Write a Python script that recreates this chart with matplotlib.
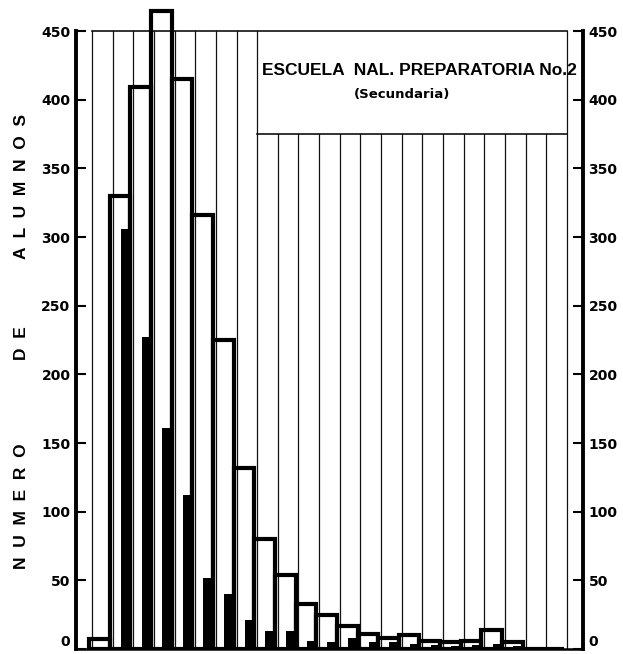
import numpy as np
import matplotlib
matplotlib.use("Agg")
import matplotlib.pyplot as plt

# Numero de alumnos por columna (barra blanca = total, barra negra = subgrupo)
total = [7, 330, 409, 465, 415, 316, 225, 132, 80, 54, 33, 25, 17, 11, 8, 10, 6, 5, 6, 14, 5, 0, 0]
subgrupo = [0, 306, 227, 161, 112, 52, 40, 21, 13, 13, 6, 5, 8, 5, 5, 4, 3, 2, 3, 4, 2, 0, 0]
y_ticks = list(range(0, 451, 50))
title = "ESCUELA  NAL. PREPARATORIA No.2"
subtitle = "(Secundaria)"
ylabel_words = ["N  U  M  E  R  O", "D  E", "A  L  U  M  N  O  S"]

n_cols = len(total)
y_top = 450
box_bottom = 375
box_first = 8

fig = plt.figure(figsize=(6.23, 6.54), dpi=100)
ax = fig.add_axes([76 / 623, 5 / 654, 507 / 623, 645.3 / 654])
ax.set_xlim(-0.775, 23.78)
ax.set_ylim(0, 470)

# grid columns
for i in range(n_cols + 1):
    top = box_bottom if box_first < i < n_cols else y_top
    ax.plot([i, i], [0, top], color="#111111", lw=0.9, zorder=1)
ax.plot([0, n_cols], [y_top, y_top], color="#111111", lw=1.2, zorder=1)
ax.plot([box_first, n_cols], [box_bottom, box_bottom], color="#111111", lw=1.2, zorder=1)

x = np.arange(n_cols)
ax.bar(x - 0.14, total, width=1.0, align="edge", facecolor="none",
       edgecolor="black", lw=3.0, zorder=3)
ax.bar(x + 0.4, subgrupo, width=0.52, align="edge", color="black",
       lw=0, zorder=4)

ax.text(15.85, 421, title, ha="center", va="center", fontsize=12.5,
        fontweight="bold", family="Liberation Sans", zorder=5)
ax.text(15.0, 404, subtitle, ha="center", va="center", fontsize=9.5,
        fontweight="bold", family="DejaVu Sans", zorder=5)

ax.spines["top"].set_visible(False)
for s in ["left", "right"]:
    ax.spines[s].set_linewidth(2.8)
    ax.spines[s].set_bounds(0, y_top)
ax.spines["bottom"].set_linewidth(1.8)

ax.set_xticks([])
ax.set_yticks(y_ticks)
ax.set_yticklabels([str(v) for v in y_ticks], fontsize=10, fontweight="bold")
ax.tick_params(axis="y", direction="in", length=7, width=1.5, pad=4,
               left=True, right=True, labelleft=True, labelright=True)
zero_tick = ax.yaxis.get_major_ticks()[0]
zero_tick.label1.set_verticalalignment("bottom")
zero_tick.label2.set_verticalalignment("bottom")

# rotated axis label, one word at a time
word_y = [506, 343, 186]
for w, yp in zip(ylabel_words, word_y):
    fig.text(22 / 623, 1 - yp / 654, w, rotation=90, ha="center", va="center",
             fontsize=12.5, fontweight="bold", family="Liberation Sans")

fig.savefig("out.png", dpi=100)
